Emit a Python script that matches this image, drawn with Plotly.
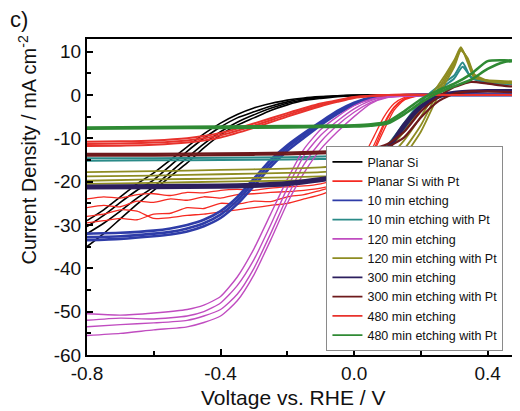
import plotly.graph_objects as go

# ---------------- data ----------------
SERIES_NAMES = ["Planar Si", "Planar Si with Pt", "10 min etching", "10 min etching with Pt",
                "120 min etching", "120 min etching with Pt", "300 min etching",
                "300 min etching with Pt", "480 min etching", "480 min etching with Pt"]

# Planar Si (black) - 4 scans
PLANAR_X = [-0.8, -0.75, -0.7, -0.65, -0.6, -0.55, -0.5, -0.45, -0.4, -0.35, -0.3, -0.25,
            -0.2, -0.15, -0.1, -0.05, 0.0, 0.1, 0.3, 0.5]
PLANAR_Y = [
    [-29.0, -26.5, -23.5, -20.5, -18.0, -15.0, -12.0, -9.0, -6.5, -4.5, -3.0, -2.0, -1.2, -0.7, -0.4, -0.2, -0.1, 0.0, 0.0, 0.0],
    [-30.4, -27.8, -24.8, -22.0, -19.6, -16.3, -13.0, -10.0, -7.4, -5.3, -3.9, -2.6, -1.6, -0.9, -0.5, -0.2, -0.1, 0.0, 0.0, 0.0],
    [-32.0, -29.6, -26.8, -23.8, -21.2, -17.8, -14.5, -11.3, -8.5, -6.3, -4.6, -3.1, -1.9, -1.1, -0.6, -0.3, -0.1, 0.0, 0.0, 0.0],
    [-35.0, -32.0, -28.6, -25.2, -22.0, -18.8, -15.7, -12.2, -9.2, -7.0, -5.3, -3.6, -2.3, -1.3, -0.8, -0.4, -0.2, 0.0, 0.0, 0.0],
]

# Planar Si with Pt (red, noisy) - 4 scans
PLANAR_PT_X = [-0.8, -0.75, -0.7, -0.65, -0.6, -0.55, -0.5, -0.45, -0.4, -0.35, -0.3, -0.25,
               -0.2, -0.15, -0.1, -0.05, 0.0, 0.03, 0.06, 0.09, 0.12, 0.15, 0.2, 0.3, 0.5]
PLANAR_PT_Y = [
    [-24.0, -23.5, -23.8, -23.0, -22.8, -23.2, -22.5, -22.6, -22.0, -21.8, -22.0, -21.5, -21.2, -21.0, -20.5, -19.5, -17.5, -14.0, -9.5, -5.0, -2.0, -0.6, 0.0, 0.1, 0.1],
    [-26.0, -25.5, -25.8, -24.5, -24.8, -24.0, -24.3, -23.5, -23.8, -23.0, -22.8, -22.5, -22.3, -22.0, -21.5, -20.5, -19.0, -16.0, -11.5, -6.5, -2.8, -0.9, 0.0, 0.1, 0.1],
    [-28.0, -27.5, -26.5, -26.8, -28.5, -28.3, -27.8, -27.5, -27.0, -26.5, -26.0, -25.5, -25.0, -24.0, -23.0, -21.5, -20.0, -17.5, -13.0, -8.0, -3.5, -1.2, -0.1, 0.1, 0.1],
    [-29.5, -29.0, -28.5, -28.8, -27.5, -27.3, -26.0, -26.2, -25.0, -25.2, -24.5, -24.6, -23.5, -23.0, -22.0, -21.0, -19.5, -17.0, -12.5, -7.0, -3.0, -1.0, -0.1, 0.1, 0.1],
]

# 10 min etching (blue) - 3 scans
E10_X = [-0.8, -0.7, -0.6, -0.55, -0.5, -0.45, -0.4, -0.35, -0.3, -0.25, -0.2, -0.15,
         -0.1, -0.05, 0.0, 0.05, 0.1, 0.2, 0.3, 0.5]
E10_Y = [
    [-32.0, -31.8, -31.3, -30.8, -30.0, -28.8, -26.8, -23.6, -19.3, -15.0, -11.6, -8.8, -6.2, -3.7, -1.8, -0.6, -0.2, 0.0, 0.0, 0.0],
    [-32.8, -32.6, -32.0, -31.6, -30.8, -29.6, -27.6, -24.4, -20.1, -15.8, -12.2, -9.3, -6.6, -4.0, -2.0, -0.7, -0.2, 0.0, 0.0, 0.0],
    [-33.5, -33.2, -32.6, -32.2, -31.5, -30.3, -28.4, -25.2, -21.0, -16.6, -12.9, -9.9, -7.0, -4.4, -2.2, -0.8, -0.3, 0.0, 0.0, 0.0],
]

# 10 min etching with Pt (teal) - 2 scans
E10PT_X = [-0.8, -0.6, -0.4, -0.2, -0.1, 0.0, 0.05, 0.1, 0.15, 0.2, 0.25, 0.3, 0.325, 0.35, 0.4, 0.5]
E10PT_Y = [
    [-14.6, -14.6, -14.5, -14.4, -14.2, -13.8, -13.0, -11.5, -6.5, -1.5, 1.8, 4.5, 7.5, 4.0, 2.8, 2.5],
    [-15.2, -15.1, -15.0, -14.9, -14.8, -14.5, -14.0, -12.5, -8.0, -3.0, 1.0, 3.8, 6.5, 4.2, 3.0, 2.5],
]

# 120 min etching (orchid) - 4 scans
E120_X = [-0.8, -0.7, -0.6, -0.5, -0.45, -0.4, -0.35, -0.3, -0.25, -0.2, -0.15, -0.1,
          -0.05, 0.0, 0.05, 0.1, 0.3, 0.5]
E120_Y = [
    [-50.5, -50.8, -50.3, -49.5, -48.5, -46.5, -42.0, -35.5, -27.5, -19.5, -12.5, -8.0, -5.0, -2.5, -1.0, -0.3, 0.0, 0.0],
    [-52.0, -51.5, -51.7, -51.0, -50.0, -48.0, -44.0, -38.0, -30.0, -21.5, -14.0, -9.3, -6.0, -3.2, -1.3, -0.4, 0.0, 0.0],
    [-53.5, -53.0, -52.6, -52.0, -51.0, -49.5, -46.0, -40.0, -32.0, -23.5, -16.0, -10.8, -7.0, -4.0, -1.7, -0.5, 0.0, 0.0],
    [-55.5, -55.0, -54.2, -53.5, -52.5, -51.0, -47.5, -41.5, -33.5, -25.0, -18.0, -12.5, -8.5, -5.0, -2.0, -0.6, 0.0, 0.0],
]

# 120 min etching with Pt (olive) - 4 scans
E120PT_X = [-0.8, -0.6, -0.4, -0.2, -0.1, -0.05, 0.0, 0.05, 0.1, 0.15, 0.2, 0.25, 0.3,
            0.32, 0.34, 0.36, 0.4, 0.45, 0.5]
E120PT_Y = [
    [-17.8, -17.6, -17.3, -17.0, -16.7, -16.4, -15.8, -14.8, -12.5, -8.5, -3.0, 2.0, 8.0, 11.0, 7.5, 4.0, 3.4, 3.2, 3.0],
    [-18.8, -18.6, -18.3, -18.0, -17.8, -17.5, -17.0, -16.3, -14.5, -10.5, -5.0, 1.2, 7.5, 10.8, 8.0, 4.2, 3.2, 3.0, 2.8],
    [-19.8, -19.5, -19.3, -19.0, -18.8, -18.6, -18.2, -17.6, -16.0, -12.5, -7.0, 0.5, 7.0, 10.5, 8.2, 4.5, 3.1, 2.8, 2.6],
    [-20.5, -20.3, -20.0, -19.8, -19.6, -19.4, -19.0, -18.5, -17.2, -14.0, -8.5, -0.5, 6.5, 10.2, 8.5, 4.8, 3.3, 2.8, 2.5],
]

# 300 min etching (dark indigo) - 2 scans
E300_X = [-0.8, -0.6, -0.4, -0.3, -0.2, -0.1, -0.05, 0.0, 0.05, 0.1, 0.15, 0.2, 0.25, 0.3, 0.4, 0.5]
E300_Y = [
    [-21.0, -20.9, -20.8, -20.6, -20.2, -19.3, -18.7, -18.0, -16.2, -12.2, -6.7, -2.5, -0.3, 0.6, 1.0, 1.0],
    [-21.5, -21.4, -21.3, -21.1, -20.7, -19.8, -19.2, -18.6, -16.9, -12.9, -7.4, -3.0, -0.6, 0.4, 0.9, 1.0],
]

# 300 min etching with Pt (maroon) - 2 scans
E300PT_X = [-0.8, -0.6, -0.4, -0.2, -0.1, 0.0, 0.05, 0.1, 0.15, 0.2, 0.25, 0.3, 0.35, 0.4, 0.45, 0.5]
E300PT_Y = [
    [-13.6, -13.6, -13.5, -13.3, -13.1, -12.8, -12.4, -11.3, -8.5, -3.8, -0.6, 1.8, 3.0, 2.6, 2.1, 1.8],
    [-14.0, -14.0, -13.9, -13.7, -13.5, -13.2, -12.9, -12.0, -9.8, -5.2, -1.6, 0.3, 0.8, 0.8, 0.7, 0.6],
]

# 480 min etching (red) - 3 scans
E480_X = [-0.8, -0.7, -0.6, -0.5, -0.4, -0.3, -0.2, -0.1, -0.05, 0.0, 0.05, 0.1, 0.3, 0.5]
E480_Y = [
    [-10.8, -10.7, -10.5, -10.0, -8.8, -6.6, -4.2, -2.0, -1.2, -0.5, -0.2, 0.0, 0.0, 0.0],
    [-11.3, -11.2, -11.0, -10.5, -9.3, -7.1, -4.6, -2.3, -1.4, -0.6, -0.2, 0.0, 0.0, 0.0],
    [-11.8, -11.7, -11.5, -11.0, -9.8, -7.6, -5.0, -2.6, -1.6, -0.7, -0.3, 0.0, 0.0, 0.0],
]

# 480 min etching with Pt (green) - 2 scans
E480PT_X = [-0.8, -0.6, -0.4, -0.2, -0.1, 0.0, 0.05, 0.1, 0.15, 0.2, 0.25, 0.3, 0.35, 0.4, 0.45, 0.5]
E480PT_Y = [
    [-7.5, -7.4, -7.3, -7.2, -7.1, -7.0, -6.8, -6.2, -3.8, -1.0, 1.0, 2.6, 4.8, 7.8, 8.0, 7.8],
    [-7.8, -7.7, -7.6, -7.5, -7.4, -7.3, -7.1, -6.6, -4.5, -1.8, 0.4, 2.0, 3.5, 6.0, 7.6, 7.9],
]

X_TICK_VALS = [-0.8, -0.4, 0.0, 0.4]
X_TICK_TEXT = ["-0.8", "-0.4", "0.0", "0.4"]
Y_TICK_VALS = [-60, -50, -40, -30, -20, -10, 0, 10]
Y_TICK_TEXT = ["-60", "-50", "-40", "-30", "-20", "-10", "0", "10"]

# ---------------- styling ----------------
FONT = "Arial, 'Liberation Sans', sans-serif"
series = [
    (SERIES_NAMES[0], PLANAR_X, PLANAR_Y, "#000000", 1.6),
    (SERIES_NAMES[1], PLANAR_PT_X, PLANAR_PT_Y, "#f52a22", 1.3),
    (SERIES_NAMES[2], E10_X, E10_Y, "#2e3ca8", 2.6),
    (SERIES_NAMES[3], E10PT_X, E10PT_Y, "#2a8a88", 2.0),
    (SERIES_NAMES[4], E120_X, E120_Y, "#c04cc0", 1.4),
    (SERIES_NAMES[5], E120PT_X, E120PT_Y, "#8e8c22", 1.8),
    (SERIES_NAMES[6], E300_X, E300_Y, "#2c1f5e", 3.0),
    (SERIES_NAMES[7], E300PT_X, E300PT_Y, "#6e1a1c", 2.2),
    (SERIES_NAMES[8], E480_X, E480_Y, "#e8322c", 2.0),
    (SERIES_NAMES[9], E480PT_X, E480PT_Y, "#2f8a34", 2.6),
]

fig = go.Figure()
for name, xs, scans, color, width in series:
    for ys in scans:
        fig.add_trace(go.Scatter(
            x=xs, y=ys, mode="lines", name=name, legendgroup=name, showlegend=False,
            line=dict(color=color, width=width, shape="spline", smoothing=0.6),
        ))
# legend keys (thin lines, as in the reference legend)
for name, xs, scans, color, width in series:
    fig.add_trace(go.Scatter(
        x=[None], y=[None], mode="lines", name=name,
        legendgroup=name, showlegend=True,
        line=dict(color=color, width=1.6),
    ))

# page body has an 8 px margin: figure is 512x403 drawn from (8, 8)
fig.update_layout(
    width=512, height=403,
    margin=dict(l=79, r=0, t=31, b=56),
    paper_bgcolor="white", plot_bgcolor="white",
    font=dict(family=FONT, color="#111111"),
    showlegend=True,
    legend=dict(
        x=0.553, y=0.012, xanchor="left", yanchor="bottom",
        bgcolor="white", bordercolor="#8a8a8a", borderwidth=1,
        font=dict(family=FONT, size=12.5, color="#111111"),
        tracegroupgap=0, traceorder="normal", itemwidth=30,
    ),
    xaxis=dict(
        range=[-0.8, 0.497], showgrid=False, zeroline=False,
        showline=True, linecolor="black", linewidth=2, mirror=True,
        ticks="inside", ticklen=6, tickwidth=2, tickcolor="black",
        tickvals=X_TICK_VALS, ticktext=X_TICK_TEXT,
        tickfont=dict(family=FONT, size=19, color="#111111"),
        minor=dict(dtick=0.2, tick0=-0.8, ticks="inside", ticklen=4, tickwidth=2, tickcolor="black"),
    ),
    yaxis=dict(
        range=[-60, 12.9], showgrid=False, zeroline=False,
        showline=True, linecolor="black", linewidth=2, mirror=False,
        ticks="inside", ticklen=6, tickwidth=2, tickcolor="black",
        tickvals=Y_TICK_VALS, ticktext=Y_TICK_TEXT,
        tickfont=dict(family=FONT, size=19, color="#111111"),
        minor=dict(dtick=5, tick0=0, ticks="inside", ticklen=4, tickwidth=2, tickcolor="black"),
    ),
    annotations=[
        dict(text="Voltage vs. RHE / V", xref="paper", yref="paper", x=0.476, y=-0.136,
             xanchor="center", yanchor="middle", showarrow=False,
             font=dict(family=FONT, size=21, color="#111111")),
        dict(text="Current Density / mA cm<sup>-2</sup>", xref="paper", yref="paper",
             x=-0.138, y=0.648, xanchor="center", yanchor="middle", textangle=-90, showarrow=False,
             font=dict(family=FONT, size=20, color="#111111")),
        dict(text="c)", xref="paper", yref="paper", x=-0.157, y=1.063,
             xanchor="center", yanchor="middle", showarrow=False,
             font=dict(family=FONT, size=22, color="#111111")),
    ],
)

fig.write_html("out.html")
